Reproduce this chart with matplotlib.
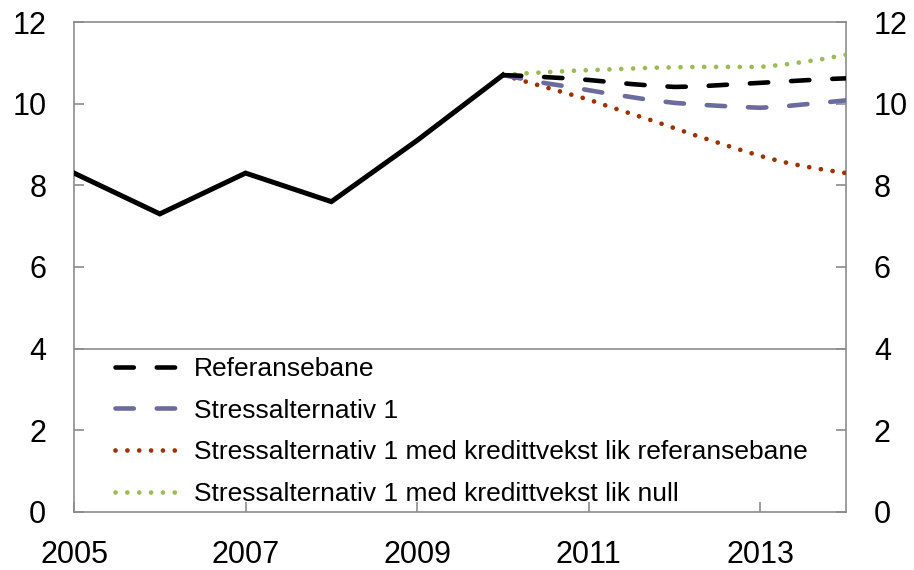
import matplotlib
matplotlib.use("Agg")
import matplotlib.pyplot as plt
import numpy as np

plt.rcParams['font.family'] = ['Liberation Sans', 'DejaVu Sans']

# historisk
years = [2005, 2006, 2007, 2008, 2009, 2010]
hist = [8.3, 7.3, 8.3, 7.6, 9.1, 10.7]

# framskrivinger, kvartalsvis 2010-2014
qx = [2010 + i * 0.25 for i in range(17)]
referanse = [10.7, 10.68, 10.65, 10.62, 10.58, 10.53, 10.48, 10.44, 10.41,
             10.42, 10.45, 10.48, 10.51, 10.54, 10.57, 10.6, 10.62]
stress1 = [10.7, 10.6, 10.5, 10.42, 10.33, 10.24, 10.16, 10.08, 10.02,
           9.98, 9.95, 9.92, 9.9, 9.93, 9.98, 10.03, 10.08]
stress_ref = [10.7, 10.55, 10.4, 10.25, 10.1, 9.92, 9.75, 9.58, 9.4,
              9.22, 9.05, 8.88, 8.72, 8.58, 8.47, 8.38, 8.3]
stress_null = [10.7, 10.74, 10.77, 10.8, 10.82, 10.84, 10.86, 10.88, 10.89,
               10.9, 10.9, 10.9, 10.9, 10.95, 11.02, 11.1, 11.2]

labels = ["Referansebane", "Stressalternativ 1",
          "Stressalternativ 1 med kredittvekst lik referansebane",
          "Stressalternativ 1 med kredittvekst lik null"]

grey = "#8c8c8c"

fig = plt.figure(figsize=(9.14, 5.70), dpi=100)
ax = fig.add_axes([0.081, 0.1018, 0.8446, 0.8596])

ax.plot(years, hist, color="black", lw=3.6, solid_joinstyle="miter", zorder=5)
ax.plot(qx, stress_null, color="#9bbb59", lw=3.4, linestyle=(0, (0.01, 2.5)),
        dash_capstyle="round", label=labels[3], zorder=3)
ax.plot(qx, stress_ref, color="#993300", lw=3.4, linestyle=(0, (0.01, 2.5)),
        dash_capstyle="round", label=labels[2], zorder=3)
ax.plot(qx, stress1, color="#6b6b9e", lw=3.3, linestyle=(0, (4.0, 5.0)),
        dash_capstyle="round", label=labels[1], zorder=4)
ax.plot(qx, referanse, color="black", lw=3.3, linestyle=(0, (4.0, 5.0)),
        dash_capstyle="round", label=labels[0], zorder=4)

ax.axhline(4, color=grey, lw=1.2, zorder=1)

ax.set_xlim(2005, 2014)
ax.set_ylim(0, 12)
ax.set_yticks(np.arange(0, 13, 2))
ax.set_xticks([2005, 2007, 2009, 2011, 2013])

for s in ax.spines.values():
    s.set_color(grey)
    s.set_linewidth(1.2)

ax.tick_params(axis="both", direction="in", length=7, width=1.2, color=grey,
               labelsize=22, pad=20)
ax.tick_params(axis="y", right=True, labelright=True)

h, l = ax.get_legend_handles_labels()
order = [3, 2, 1, 0]
leg = ax.legend([h[i] for i in order], [l[i] for i in order],
                loc="upper left", bbox_to_anchor=(0.04, 0.338), frameon=False,
                fontsize=19, handlelength=2.4, handletextpad=0.57,
                labelspacing=0.67, borderaxespad=0)

fig.savefig("out.png", dpi=100)
